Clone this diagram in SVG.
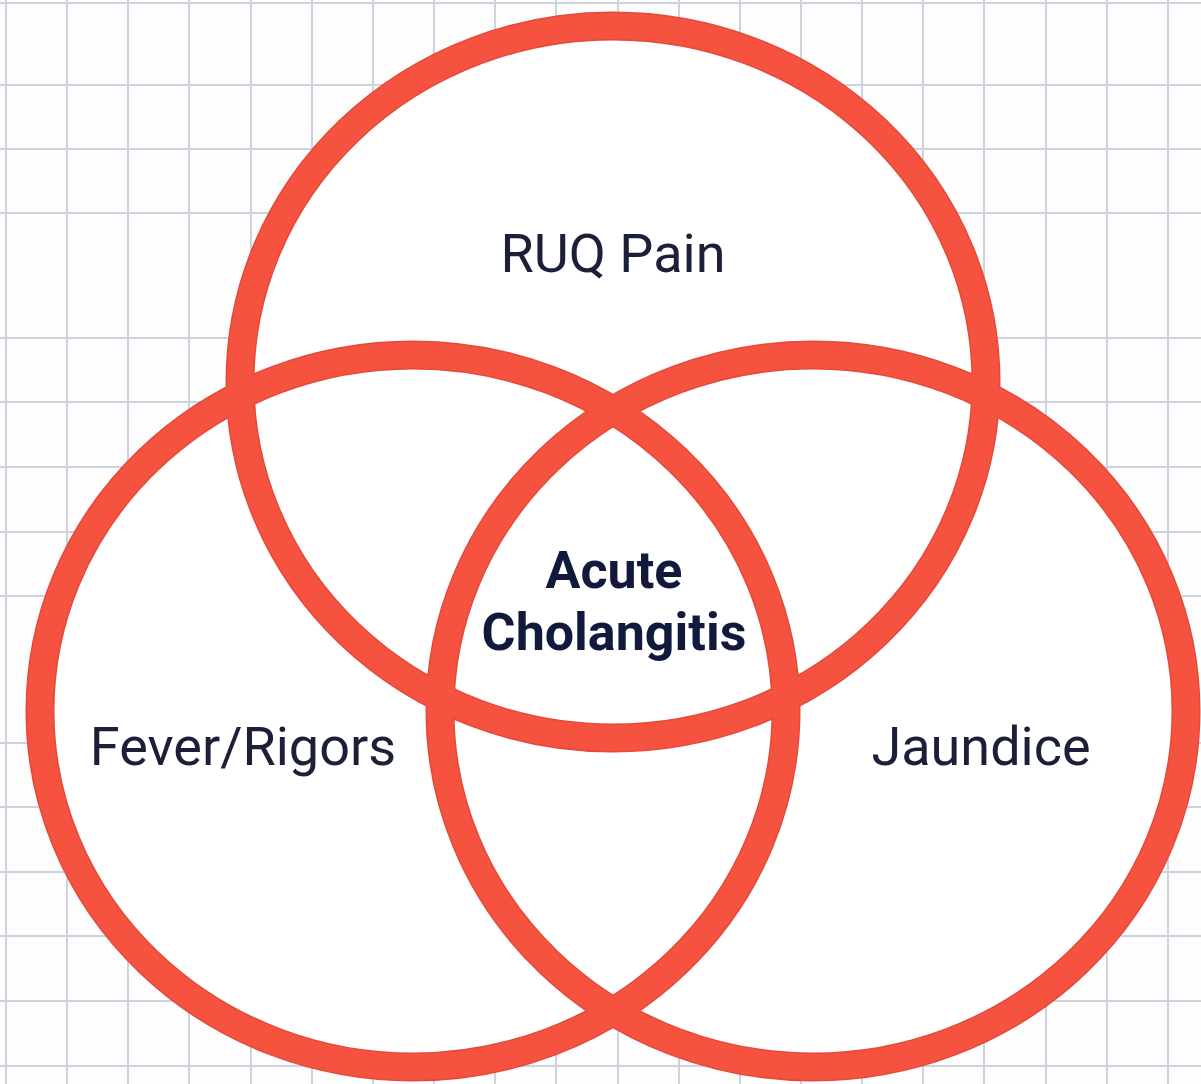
<svg xmlns="http://www.w3.org/2000/svg" width="1201" height="1084" viewBox="0 0 1201 1084">
  <style>
    .grid line { stroke: #ccd2de; stroke-width: 2; }
    .fill { fill: #ffffff; stroke: none; }
    .ring-edge { fill: none; stroke: #e4493a; stroke-width: 29; }
    .ring { fill: none; stroke: #f5533f; stroke-width: 26; }
    .label { font-family: Roboto, "Liberation Sans", sans-serif; font-size: 54px; fill: #1b2038; text-anchor: middle; }
    .center { font-family: Roboto, "Liberation Sans", sans-serif; font-size: 52px; font-weight: 700; fill: #111a3c; text-anchor: middle; }
  </style>
  <defs>
    <ellipse id="eTop" cx="613" cy="382" rx="373" ry="356"/>
    <ellipse id="eLeft" cx="413" cy="711" rx="373" ry="356"/>
    <ellipse id="eRight" cx="813" cy="711" rx="373" ry="356"/>
  </defs>
  <rect x="0" y="0" width="1201" height="1084" fill="#fdfdfd"/>
  <g class="grid" id="grid">
    <line x1="6" y1="0" x2="6" y2="1084"/>
    <line x1="67" y1="0" x2="67" y2="1084"/>
    <line x1="128" y1="0" x2="128" y2="1084"/>
    <line x1="189" y1="0" x2="189" y2="1084"/>
    <line x1="251" y1="0" x2="251" y2="1084"/>
    <line x1="312" y1="0" x2="312" y2="1084"/>
    <line x1="373" y1="0" x2="373" y2="1084"/>
    <line x1="434" y1="0" x2="434" y2="1084"/>
    <line x1="495" y1="0" x2="495" y2="1084"/>
    <line x1="556" y1="0" x2="556" y2="1084"/>
    <line x1="618" y1="0" x2="618" y2="1084"/>
    <line x1="679" y1="0" x2="679" y2="1084"/>
    <line x1="740" y1="0" x2="740" y2="1084"/>
    <line x1="801" y1="0" x2="801" y2="1084"/>
    <line x1="862" y1="0" x2="862" y2="1084"/>
    <line x1="923" y1="0" x2="923" y2="1084"/>
    <line x1="984" y1="0" x2="984" y2="1084"/>
    <line x1="1046" y1="0" x2="1046" y2="1084"/>
    <line x1="1107" y1="0" x2="1107" y2="1084"/>
    <line x1="1168" y1="0" x2="1168" y2="1084"/>
    <line x1="0" y1="3" x2="1201" y2="3"/>
    <line x1="0" y1="85" x2="1201" y2="85"/>
    <line x1="0" y1="149" x2="1201" y2="149"/>
    <line x1="0" y1="213" x2="1201" y2="213"/>
    <line x1="0" y1="338" x2="1201" y2="338"/>
    <line x1="0" y1="402" x2="1201" y2="402"/>
    <line x1="0" y1="467" x2="1201" y2="467"/>
    <line x1="0" y1="532" x2="1201" y2="532"/>
    <line x1="0" y1="596" x2="1201" y2="596"/>
    <line x1="0" y1="743" x2="1201" y2="743"/>
    <line x1="0" y1="807" x2="1201" y2="807"/>
    <line x1="0" y1="872" x2="1201" y2="872"/>
    <line x1="0" y1="936" x2="1201" y2="936"/>
    <line x1="0" y1="1001" x2="1201" y2="1001"/>
    <line x1="0" y1="1066" x2="1201" y2="1066"/>
  </g>
  <g id="fills">
    <use href="#eTop" class="fill"/>
    <use href="#eLeft" class="fill"/>
    <use href="#eRight" class="fill"/>
  </g>
  <g id="edges">
    <use href="#eTop" class="ring-edge"/>
    <use href="#eLeft" class="ring-edge"/>
    <use href="#eRight" class="ring-edge"/>
  </g>
  <g id="node-ruq-pain">
    <use href="#eTop" class="ring"/>
    <text class="label" x="613" y="272">RUQ Pain</text>
  </g>
  <g id="node-fever-rigors">
    <use href="#eLeft" class="ring"/>
    <text class="label" x="243" y="765">Fever/Rigors</text>
  </g>
  <g id="node-jaundice">
    <use href="#eRight" class="ring"/>
    <text class="label" x="981" y="765">Jaundice</text>
  </g>
  <g id="node-acute-cholangitis">
    <text class="center" x="614" y="588">Acute</text>
    <text class="center" x="614" y="650">Cholangitis</text>
  </g>
  <g id="connectors"/>
</svg>
